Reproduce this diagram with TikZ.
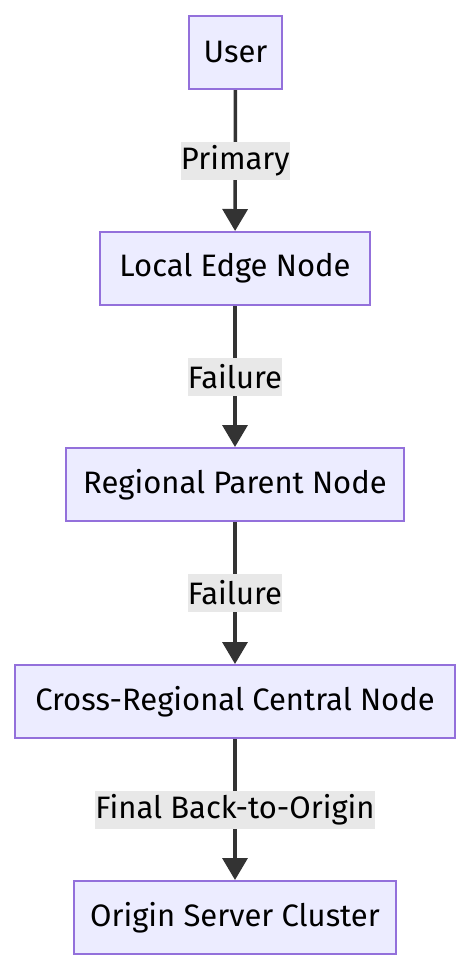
\documentclass[tikz,border=0pt]{standalone}
\usepackage{fontspec}
\setmainfont{Fira Sans}
\usetikzlibrary{arrows.meta}
\definecolor{nodefill}{HTML}{ECECFF}
\definecolor{nodeline}{HTML}{9370DB}
\definecolor{edgeline}{HTML}{333333}
\definecolor{labelbg}{HTML}{E8E8E8}
\begin{document}
\begin{tikzpicture}[x=1pt,y=-1pt,
  box/.style={draw=nodeline,fill=nodefill,line width=2pt,minimum height=73pt,inner sep=0pt,font=\fontsize{31}{36}\selectfont},
  elabel/.style={fill=labelbg,inner xsep=0pt,inner ysep=0pt,minimum height=38pt,font=\fontsize{31}{36}\selectfont},
  flow/.style={draw=edgeline,line width=3.5pt,-{Triangle[length=22pt,width=25pt]}}]
\useasboundingbox (0,0) rectangle (470,970);
\node[box,minimum width=93pt] (user) at (235.5,52.5) {User};
\node[box,minimum width=270pt] (local) at (235,268.5) {Local Edge Node};
\node[box,minimum width=338pt] (regional) at (235,484.5) {Regional Parent Node};
\node[box,minimum width=440pt] (cross) at (235,701.5) {Cross-Regional Central Node};
\node[box,minimum width=322pt] (origin) at (235,917.5) {Origin Server Cluster};
\draw[flow] (user) -- (local) node[midway,elabel] (l1) {Primary};
\draw[flow] (local) -- (regional) node[midway,elabel] (l2) {Failure};
\draw[flow] (regional) -- (cross) node[midway,elabel] (l3) {Failure};
\draw[flow] (cross) -- (origin) node[midway,elabel] (l4) {Final Back-to-Origin};
\end{tikzpicture}
\end{document}
